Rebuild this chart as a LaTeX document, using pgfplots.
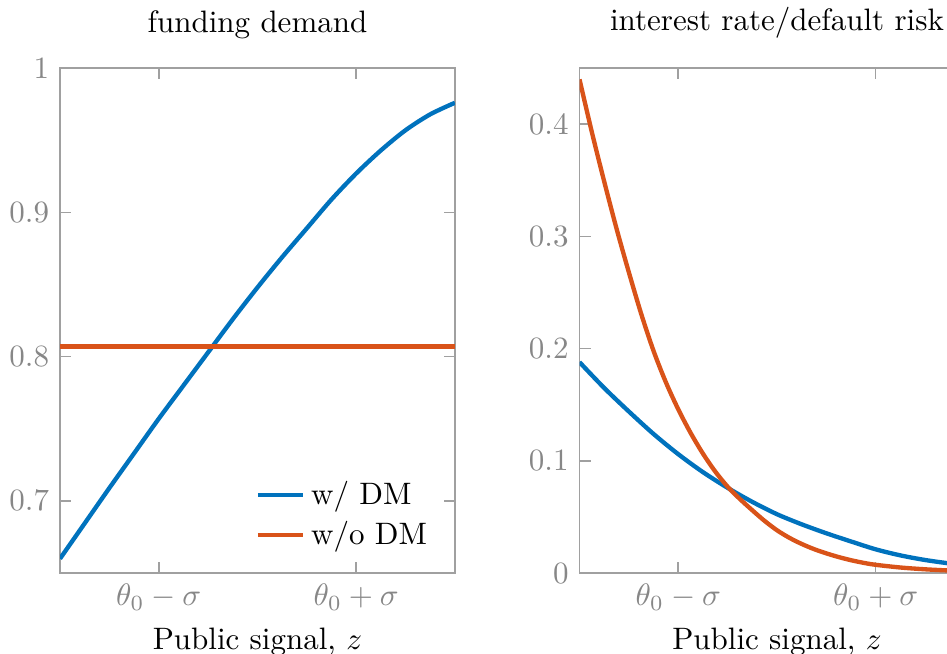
\documentclass[border=0pt]{standalone}
\usepackage{pgfplots}
\pgfplotsset{compat=1.18}
\definecolor{mblue}{RGB}{0,114,189}
\definecolor{morange}{RGB}{217,83,25}
\definecolor{axgray}{RGB}{160,160,160}
\definecolor{lblgray}{RGB}{135,135,135}
\pgfplotsset{
  myaxis/.style={
    scale only axis, anchor=south west,
    width=127.4pt, height=162.9pt,
    xmin=-2, xmax=2,
    xtick={-1,1},
    xticklabels={$\theta_0-\sigma$,$\theta_0+\sigma$},
    tick align=inside,
    major tick length=3.6pt,
    axis line style={axgray, line width=0.5pt},
    every tick/.style={axgray, line width=0.5pt},
    tick label style={text=lblgray},
    xlabel={Public signal, $z$},
    xlabel style={yshift=1pt},
    every axis plot/.append style={line width=1.4pt, smooth, tension=0.5},
  }
}
\begin{document}
\begin{tikzpicture}
\begin{axis}[myaxis,
  at={(19.36pt,25.81pt)},
  ymin=0.65, ymax=1,
  ytick={0.7,0.8,0.9,1},
  title={funding demand},
  legend style={at={(0.97,0.022)}, anchor=south east, draw=none, fill=none, row sep=0pt},
  legend cell align=left,
  legend image code/.code={\draw[#1] (0pt,0pt) -- (14.5pt,0pt);},
]
\addplot[mblue] coordinates {
(-2,0.660) (-1.75,0.6845) (-1.5,0.709) (-1.25,0.733) (-1,0.757)
(-0.75,0.780) (-0.5,0.803) (-0.25,0.826) (0,0.848) (0.25,0.869)
(0.5,0.889) (0.75,0.909) (1,0.927) (1.25,0.943) (1.5,0.957)
(1.75,0.968) (2,0.976)};
\addlegendentry{w/ DM}
\addplot[morange] coordinates {(-2,0.807) (2,0.807)};
\addlegendentry{w/o DM}
\end{axis}
\begin{axis}[myaxis,
  at={(186.95pt,25.81pt)},
  ymin=0, ymax=0.45,
  ytick={0,0.1,0.2,0.3,0.4},
  title={interest rate/default risk},
]
\addplot[mblue] coordinates {
(-2,0.188) (-1.75,0.165) (-1.5,0.144) (-1.25,0.124) (-1,0.106)
(-0.75,0.090) (-0.5,0.0760) (-0.25,0.0635) (0,0.0525) (0.25,0.0435)
(0.5,0.0355) (0.75,0.0282) (1,0.0212) (1.25,0.0158) (1.5,0.0117)
(1.75,0.0086) (2,0.0062)};
\addplot[morange] coordinates {
(-2,0.440) (-1.875,0.393) (-1.75,0.349) (-1.625,0.307) (-1.5,0.268)
(-1.375,0.231) (-1.25,0.198) (-1.125,0.170) (-1,0.146) (-0.875,0.125)
(-0.75,0.1065) (-0.625,0.0905) (-0.5,0.0770) (-0.375,0.0660) (-0.25,0.0560)
(-0.125,0.0465) (0,0.0382) (0.125,0.0315) (0.25,0.0260) (0.375,0.0214)
(0.5,0.0176) (0.625,0.0143) (0.75,0.0115) (0.875,0.0092) (1,0.0074)
(1.25,0.0050) (1.5,0.0034) (1.75,0.0023) (2,0.0015)};
\end{axis}
\pgfresetboundingbox
\path[use as bounding box] (0,0) rectangle (305.5pt,210.7pt);
\end{tikzpicture}
\end{document}
